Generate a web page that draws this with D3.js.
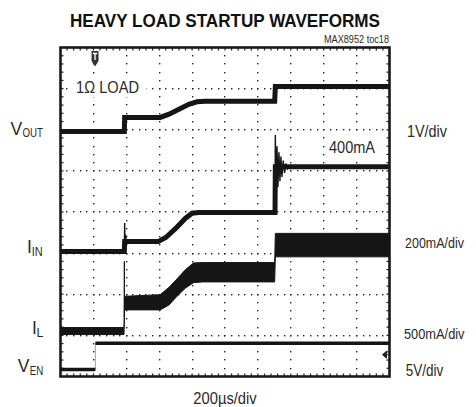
<!DOCTYPE html>
<html><head><meta charset="utf-8">
<script src="https://cdn.jsdelivr.net/npm/d3@7"></script>
<style>
html,body{margin:0;padding:0;background:#fff;}
svg{display:block;}
</style></head><body>
<svg id="c" width="476" height="407"></svg>
<script>
// ---- data (time in divisions, amplitude in screen divisions from bottom) ----
const timeDivs = 10, ampDivs = 8;
const titleText = "HEAVY LOAD STARTUP WAVEFORMS";
const noteText = "MAX8952 toc18";
const xLabel = "200\u00b5s/div";
const scaleLabels = ["1V/div", "200mA/div", "500mA/div", "5V/div"];
const annotations = ["1\u03a9 LOAD", "400mA"];
const channelMain = ["V", "I", "I", "V"];
const channelSub = ["OUT", "IN", "L", "EN"];

// VOUT trace centre
const vout = [[0,5.96],[1.94,5.96],[1.95,6.30],[3.03,6.30],[3.3,6.38],[3.6,6.50],[3.9,6.62],[4.15,6.68],[4.4,6.69],[6.51,6.69],[6.53,7.05],[10,7.05]];
// IIN trace centre
const iin = [[0,3.04],[1.94,3.04],[1.95,3.28],[2.97,3.28],[3.2,3.38],[3.5,3.60],[3.8,3.85],[4.0,3.97],[4.2,3.99],[6.52,3.99],[6.53,5.10],[10,5.10]];
const iinSpike = [[1.94,3.01],[1.95,3.73],[1.96,3.05],[1.98,3.45],[2.00,3.25]];
const iinRing = [[6.52,3.99],[6.53,5.87],[6.55,4.41],[6.58,5.60],[6.61,4.60],[6.64,5.45],[6.67,4.75],[6.70,5.35],[6.73,4.85],[6.77,5.25],[6.81,4.95],[6.85,5.18],[6.90,5.05],[6.95,5.12]];
// IL envelope (noisy band)
const ilT  = [0,    1.93, 1.95, 3.03, 3.3,  3.55, 3.8,  4.04, 4.3,  6.51, 6.53, 10];
const ilHi = [1.19, 1.19, 1.95, 1.99, 2.17, 2.38, 2.60, 2.76, 2.77, 2.77, 3.48, 3.48];
const ilLo = [1.02, 1.02, 1.62, 1.62, 1.74, 1.96, 2.15, 2.28, 2.30, 2.30, 2.91, 2.91];
const ilSpike = [[1.94,1.46],[1.94,2.80]];
// VEN
const ven = [[0,0.17],[1.06,0.17],[1.06,null],[1.06,0.81],[10,0.81]];
const venEdge = [[1.06,0.17],[1.06,0.81]];
const venGround = 0.53;
const triggerTime = 1.05;

// ---- drawing ----
const svg = d3.select("#c");
const x = d3.scaleLinear().domain([0,timeDivs]).range([60.5,389.5]);
const y = d3.scaleLinear().domain([0,ampDivs]).range([376.5,47.5]);
const ink = "#151515";
const textCol = "#2a2a2a";
const narrow = "'Liberation Sans Narrow','Arial Narrow','Liberation Sans',Arial,sans-serif";

// grid dots
const dots = [];
for (let i=1;i<timeDivs;i++) for (let k=1;k<ampDivs*5;k++) dots.push([i, k/5]);
for (let j=1;j<ampDivs;j++) for (let k=1;k<timeDivs*5;k++) dots.push([k/5, j]);
svg.append("g").selectAll("rect").data(dots).join("rect")
  .attr("x", d=>Math.round(x(d[0])-0.6)).attr("y", d=>Math.round(y(d[1])-0.6))
  .attr("width",1.4).attr("height",1.4).attr("fill","#222");

// frame ticks
const tk = [];
for (let k=1;k<timeDivs*5;k++){ tk.push([x(k/5), y(ampDivs), x(k/5), y(ampDivs)+3]); tk.push([x(k/5), y(0), x(k/5), y(0)-3]); }
for (let k=1;k<ampDivs*5;k++){ tk.push([x(0), y(k/5), x(0)+3, y(k/5)]); tk.push([x(timeDivs), y(k/5), x(timeDivs)-3, y(k/5)]); }
svg.append("g").selectAll("line").data(tk).join("line")
  .attr("x1",d=>d[0]).attr("y1",d=>d[1]).attr("x2",d=>d[2]).attr("y2",d=>d[3])
  .attr("stroke","#222").attr("stroke-width",1.2);

// frame
svg.append("rect").attr("x",x(0)).attr("y",y(ampDivs))
  .attr("width",x(timeDivs)-x(0)).attr("height",y(0)-y(ampDivs))
  .attr("fill","none").attr("stroke","#1a1a1a").attr("stroke-width",2.6);

const line = d3.line().defined(d=>d[1]!=null).x(d=>x(d[0])).y(d=>y(d[1]));
const tr = svg.append("g");
// IL band
const ilData = ilT.map((t,i)=>({t, hi:ilHi[i], lo:ilLo[i]}));
tr.append("path").datum(ilData)
  .attr("d", d3.area().x(d=>x(d.t)).y0(d=>y(d.lo)).y1(d=>y(d.hi)))
  .attr("fill",ink).attr("stroke",ink).attr("stroke-width",1);
tr.append("path").datum(ilSpike).attr("d",line).attr("fill","none").attr("stroke",ink).attr("stroke-width",1.3);
// VOUT
tr.append("path").datum(vout).attr("d",line).attr("fill","none").attr("stroke",ink).attr("stroke-width",5);
// IIN
tr.append("path").datum(iin).attr("d",line).attr("fill","none").attr("stroke",ink).attr("stroke-width",5);
tr.append("path").datum(iinSpike).attr("d",line).attr("fill","none").attr("stroke",ink).attr("stroke-width",1.4);
tr.append("path").datum(iinRing).attr("d",line).attr("fill","none").attr("stroke",ink).attr("stroke-width",1.4);
// VEN
tr.append("path").datum(ven).attr("d",line).attr("fill","none").attr("stroke",ink).attr("stroke-width",3.6);
tr.append("path").datum(venEdge).attr("d",line).attr("fill","none").attr("stroke","#444").attr("stroke-width",1).attr("stroke-dasharray","1,1");

// trigger marker
const tx = x(triggerTime);
svg.append("path").attr("d",`M${tx-3.5},51 h7 v10 l-3.5,5.5 l-3.5,-5.5 z`).attr("fill","#333");
svg.append("path").attr("d",`M${tx-2.2},53.5 h4.4 M${tx},53.5 v6.5`).attr("stroke","#fff").attr("stroke-width",1.3);

// ground marker for VEN
const gy = y(venGround);
svg.append("path").attr("d",`M${x(timeDivs)-7},${gy} l4,-3.5 v7 z M${x(timeDivs)-4},${gy} h3`).attr("fill","#222").attr("stroke","#222").attr("stroke-width",1);

// text helper
function txt(px, py, s, size, opt={}) {
  const t = svg.append("text").attr("x",px).attr("y",py).text(s)
    .attr("font-family", opt.family||narrow).attr("font-size",size)
    .attr("fill", opt.fill||textCol).attr("text-anchor", opt.anchor||"start");
  if (opt.weight) t.attr("font-weight",opt.weight);
  if (opt.len) t.attr("textLength",opt.len).attr("lengthAdjust","spacingAndGlyphs");
  return t;
}

// title & note
txt(70, 27, titleText, 18, {weight:"bold", len:310, fill:"#111"});
txt(389, 43, noteText, 10, {anchor:"end", len:65});

// annotation boxes
svg.append("rect").attr("x",70).attr("y",76).attr("width",76).attr("height",21).attr("fill","#fff");
svg.append("rect").attr("x",326).attr("y",136).attr("width",52).attr("height",20).attr("fill","#fff");
txt(76, 93, annotations[0], 17, {len:63});
txt(329, 153, annotations[1], 17, {len:46});

// right scale labels
txt(407, 137, scaleLabels[0], 16, {len:40});
txt(405, 248, scaleLabels[1], 15, {len:59});
txt(404, 339, scaleLabels[2], 15.5, {len:60.5});
txt(405.7, 376, scaleLabels[3], 16, {len:37.6});

// x label
txt(193.3, 403.5, xLabel, 17, {len:63.4});

// left channel labels: main letter + subscript as separate texts
// [mainX, baseline, subX, subBaseline, subLen]
const chanPos = [[10.5, 135, 22.4, 137, 20.5], [27, 253.3, 31.8, 256.3, 11], [32, 334.3, 36.6, 336.7, 6.8], [17.8, 371.7, 29.8, 375, 13.5]];
chanPos.forEach((p,i)=>{
  txt(p[0], p[1], channelMain[i], 17.5);
  txt(p[2], p[3], channelSub[i], 12.5, {len:p[4]});
});
</script>
</body></html>
